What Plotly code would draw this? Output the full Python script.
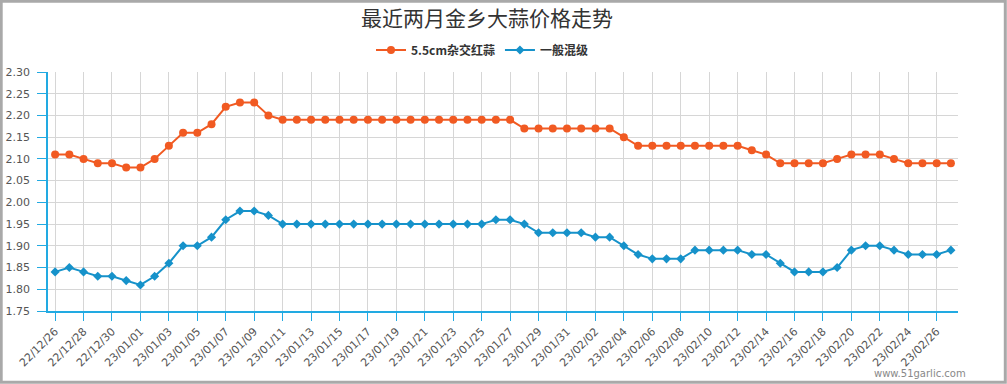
import plotly.graph_objects as go

dates = [
    "22/12/26", "22/12/27", "22/12/28", "22/12/29", "22/12/30", "22/12/31",
    "23/01/01", "23/01/02", "23/01/03", "23/01/04", "23/01/05", "23/01/06",
    "23/01/07", "23/01/08", "23/01/09", "23/01/10", "23/01/11", "23/01/12",
    "23/01/13", "23/01/14", "23/01/15", "23/01/16", "23/01/17", "23/01/18",
    "23/01/19", "23/01/20", "23/01/21", "23/01/22", "23/01/23", "23/01/24",
    "23/01/25", "23/01/26", "23/01/27", "23/01/28", "23/01/29", "23/01/30",
    "23/01/31", "23/02/01", "23/02/02", "23/02/03", "23/02/04", "23/02/05",
    "23/02/06", "23/02/07", "23/02/08", "23/02/09", "23/02/10", "23/02/11",
    "23/02/12", "23/02/13", "23/02/14", "23/02/15", "23/02/16", "23/02/17",
    "23/02/18", "23/02/19", "23/02/20", "23/02/21", "23/02/22", "23/02/23",
    "23/02/24", "23/02/25", "23/02/26", "23/02/27",
]

hybrid_red = [
    2.11, 2.11, 2.10, 2.09, 2.09, 2.08, 2.08, 2.10, 2.13, 2.16,
    2.16, 2.18, 2.22, 2.23, 2.23, 2.20, 2.19, 2.19, 2.19, 2.19,
    2.19, 2.19, 2.19, 2.19, 2.19, 2.19, 2.19, 2.19, 2.19, 2.19,
    2.19, 2.19, 2.19, 2.17, 2.17, 2.17, 2.17, 2.17, 2.17, 2.17,
    2.15, 2.13, 2.13, 2.13, 2.13, 2.13, 2.13, 2.13, 2.13, 2.12,
    2.11, 2.09, 2.09, 2.09, 2.09, 2.10, 2.11, 2.11, 2.11, 2.10,
    2.09, 2.09, 2.09, 2.09,
]

mixed_grade = [
    1.84, 1.85, 1.84, 1.83, 1.83, 1.82, 1.81, 1.83, 1.86, 1.90,
    1.90, 1.92, 1.96, 1.98, 1.98, 1.97, 1.95, 1.95, 1.95, 1.95,
    1.95, 1.95, 1.95, 1.95, 1.95, 1.95, 1.95, 1.95, 1.95, 1.95,
    1.95, 1.96, 1.96, 1.95, 1.93, 1.93, 1.93, 1.93, 1.92, 1.92,
    1.90, 1.88, 1.87, 1.87, 1.87, 1.89, 1.89, 1.89, 1.89, 1.88,
    1.88, 1.86, 1.84, 1.84, 1.84, 1.85, 1.89, 1.90, 1.90, 1.89,
    1.88, 1.88, 1.88, 1.89,
]

tick_labels = dates[::2]
series_names = ["5.5cm杂交红蒜", "一般混级"]
title_text = "最近两月金乡大蒜价格走势"
watermark = "www.51garlic.com"

ORANGE = "#F15A22"
BLUE = "#1692CA"
AXIS = "#22AAE2"
GRID = "#D6D6D6"

W, H = 1007, 384
ML, MR, MT, MB = 48, 49, 72, 73
PW, PH = W - ML - MR, H - MT - MB


def px_x(p):
    return (p - ML) / PW


def px_y(p):
    return (H - MB - p) / PH


fig = go.Figure()
fig.add_trace(go.Scatter(
    x=dates, y=hybrid_red, name=series_names[0], mode="lines+markers",
    line=dict(color=ORANGE, width=2),
    marker=dict(symbol="circle", size=8, color=ORANGE),
))
fig.add_trace(go.Scatter(
    x=dates, y=mixed_grade, name=series_names[1], mode="lines+markers",
    line=dict(color=BLUE, width=2),
    marker=dict(symbol="diamond", size=7, color=BLUE),
))

fig.update_layout(
    width=W, height=H,
    margin=dict(l=ML, r=MR, t=MT, b=MB, autoexpand=False),
    paper_bgcolor="white", plot_bgcolor="white",
    font=dict(family="DejaVu Sans", color="#555"),
    title=dict(
        text=title_text, x=487 / W, xanchor="center", xref="container",
        y=1 - 18.5 / H, yanchor="middle", yref="container",
        font=dict(family="Noto Sans CJK SC", size=21, color="#333"),
    ),
    legend=dict(
        orientation="h", x=px_x(482), xanchor="center", y=px_y(50), yanchor="middle",
        font=dict(family="Noto Sans CJK SC", size=12, color="#333", weight="bold"),
        itemwidth=30, bgcolor="rgba(0,0,0,0)",
    ),
    hovermode=False,
    showlegend=True,
)

fig.update_xaxes(
    type="category", range=[-0.5, len(dates) - 0.5],
    tickmode="array", tickvals=tick_labels, ticktext=tick_labels,
    tickangle=-45, tickfont=dict(size=11, color="#555"),
    showline=True, linecolor=AXIS, linewidth=1.5,
    ticks="outside", ticklen=8, tickcolor=AXIS, tickwidth=1,
    showgrid=True, gridcolor=GRID, gridwidth=1, zeroline=False,
)
fig.update_yaxes(
    range=[1.75, 2.30], dtick=0.05, tick0=1.75, tickformat=".2f",
    tickfont=dict(size=11, color="#555"),
    showline=True, linecolor=AXIS, linewidth=1.5,
    ticks="outside", ticklen=9, tickcolor=AXIS, tickwidth=1,
    ticklabelstandoff=5,
    showgrid=True, gridcolor=GRID, gridwidth=1, zeroline=False,
)

fig.add_shape(
    type="rect", xref="paper", yref="paper",
    x0=px_x(1.2), x1=px_x(1005.3), y0=px_y(382.3), y1=px_y(1.2),
    line=dict(color="#A9A9A9", width=3), fillcolor="rgba(0,0,0,0)", layer="above",
)

fig.add_annotation(
    text=watermark, xref="paper", yref="paper",
    x=px_x(968), xanchor="right", y=px_y(373), yanchor="middle",
    showarrow=False, font=dict(size=10, color="#888"),
)

fig.write_html(
    "out.html",
    config={"displayModeBar": False},
    post_script="document.body.style.margin='0';document.body.style.overflow='hidden';",
)
